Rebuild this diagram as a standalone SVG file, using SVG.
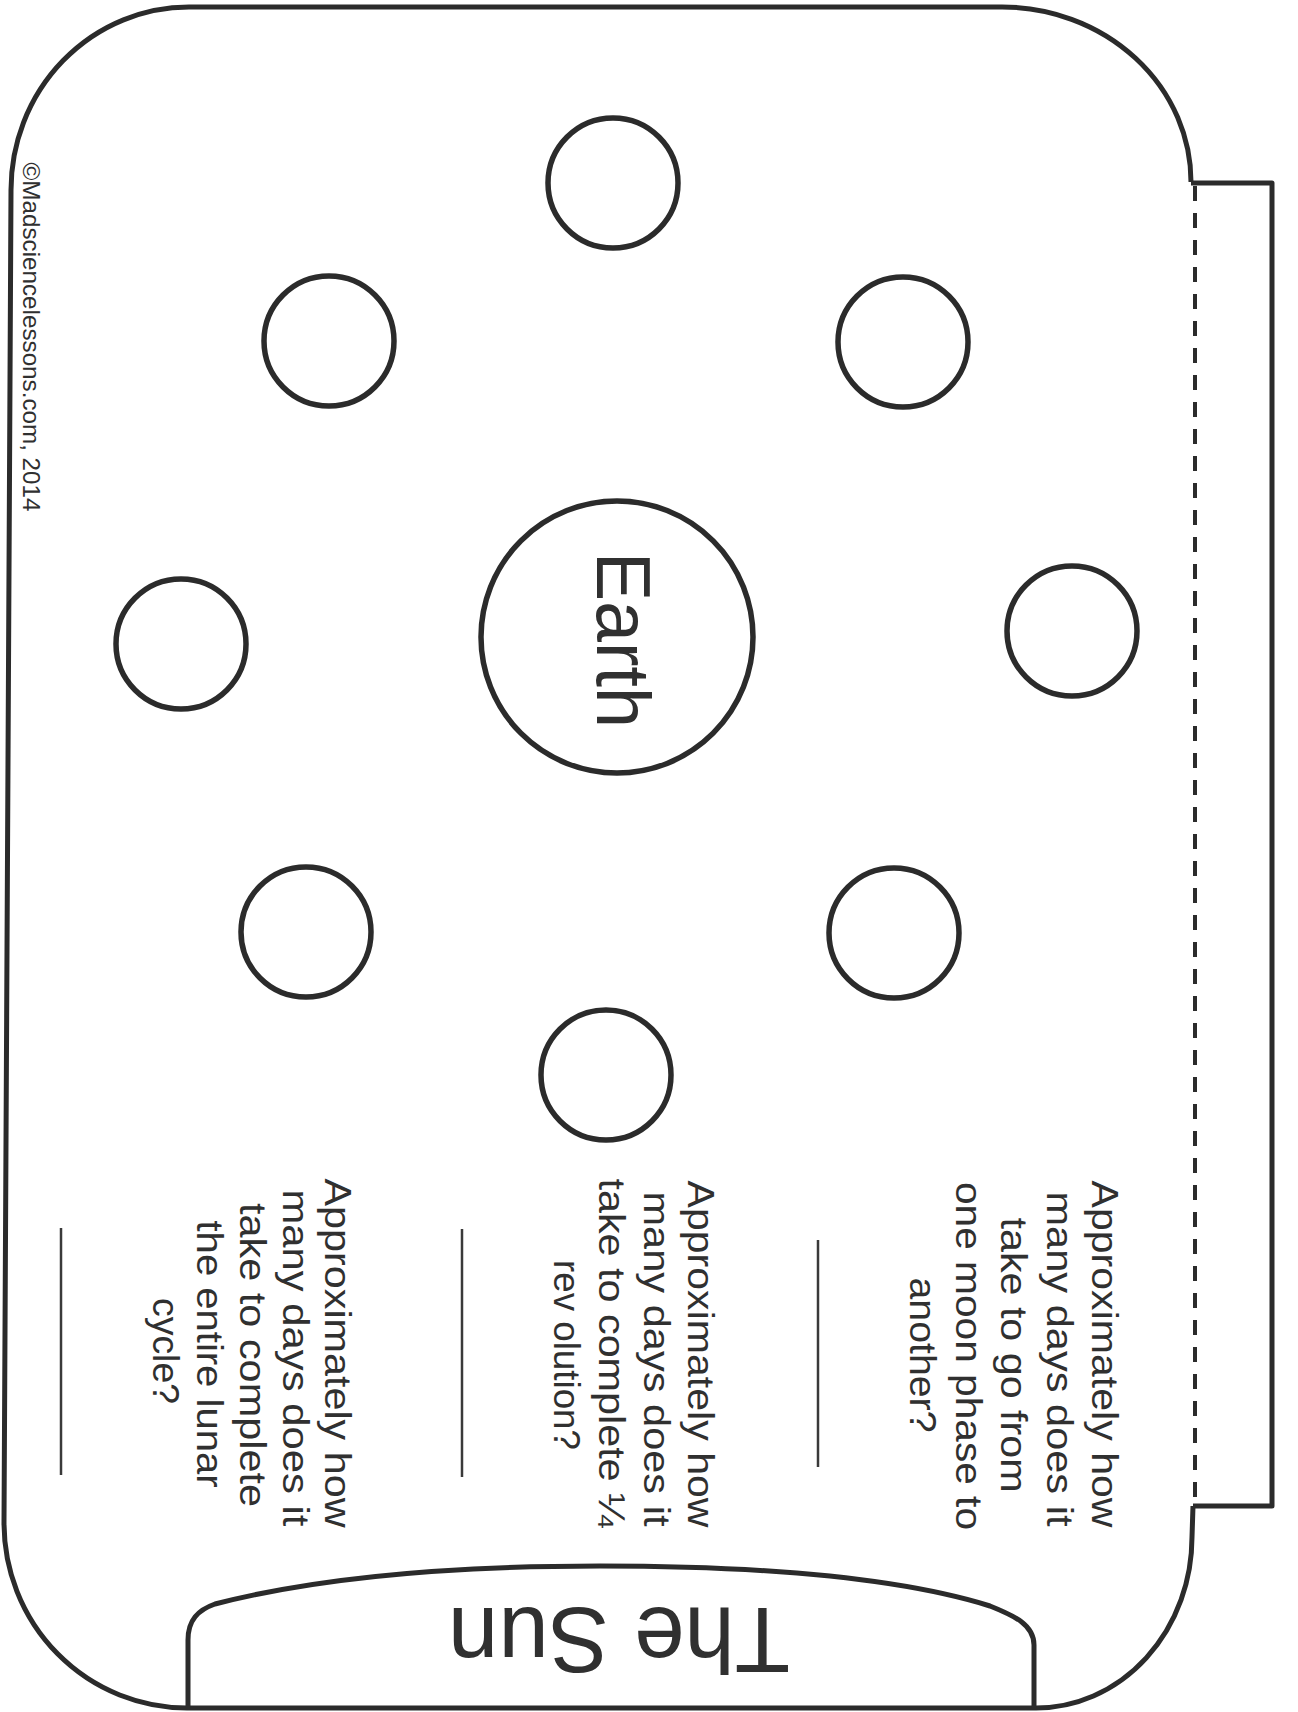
<svg xmlns="http://www.w3.org/2000/svg" width="1298" height="1712" viewBox="0 0 1298 1712">
<style>
.ln{fill:none;stroke:#2b2b2b;stroke-width:5;stroke-linejoin:round}
.moon{fill:none;stroke:#2b2b2b;stroke-width:5.5}
.ans{stroke:#3a3a3a;stroke-width:2.5}
.q{font-family:"Liberation Sans",Arial,sans-serif;font-size:36px;fill:#303030;text-anchor:middle}
.big{font-family:"Liberation Sans",Arial,sans-serif;fill:#303030;text-anchor:middle}
</style>
<rect width="1298" height="1712" fill="#ffffff"/>
<g id="frame">
<path class="ln" d="M1191,182 A189 175 0 0 0 1002,7 L189,7 A178 183 0 0 0 11,190 L4,1523 A183 185 0 0 0 187,1708 L1036,1708 A156 171 0 0 0 1192,1537 L1193,1506"/>
<path class="ln" d="M1191,183 L1272,183 L1272,1506 L1193,1506"/>
<line x1="1195" y1="186" x2="1195" y2="1506" stroke="#2b2b2b" stroke-width="4" stroke-dasharray="15 12"/>
</g>
<g id="copyright">
<text class="big" font-size="24" fill="#202020" transform="translate(23,337) rotate(90)" textLength="349" lengthAdjust="spacingAndGlyphs">©Madsciencelessons.com, 2014</text>
</g>
<g id="earth">
<circle class="moon" cx="617" cy="637" r="136"/>
<text class="big" font-size="76" transform="translate(597,640) rotate(90)" textLength="176" lengthAdjust="spacingAndGlyphs">Earth</text>
</g>
<g id="moons">
<circle id="moon-top" class="moon" cx="613" cy="183" r="65"/>
<circle id="moon-upper-left" class="moon" cx="329" cy="341" r="65"/>
<circle id="moon-upper-right" class="moon" cx="903" cy="342" r="65"/>
<circle id="moon-left" class="moon" cx="181" cy="644" r="65"/>
<circle id="moon-right" class="moon" cx="1072" cy="631" r="65"/>
<circle id="moon-lower-left" class="moon" cx="306" cy="932" r="65"/>
<circle id="moon-lower-right" class="moon" cx="894" cy="933" r="65"/>
<circle id="moon-bottom" class="moon" cx="606" cy="1075" r="65"/>
</g>
<g id="question-1">
<text class="q" transform="translate(1092,1354) rotate(90)" textLength="347" lengthAdjust="spacingAndGlyphs">Approximately how</text>
<text class="q" transform="translate(1047,1359) rotate(90)" textLength="335" lengthAdjust="spacingAndGlyphs">many days does it</text>
<text class="q" transform="translate(1001,1355) rotate(90)" textLength="275" lengthAdjust="spacingAndGlyphs">take to go from</text>
<text class="q" transform="translate(956,1356) rotate(90)" textLength="348" lengthAdjust="spacingAndGlyphs">one moon phase to</text>
<text class="q" transform="translate(910,1355) rotate(90)" textLength="155" lengthAdjust="spacingAndGlyphs">another?</text>
<line class="ans" x1="818" y1="1240" x2="818" y2="1467"/>
</g>
<g id="question-2">
<text class="q" transform="translate(688,1354) rotate(90)" textLength="347" lengthAdjust="spacingAndGlyphs">Approximately how</text>
<text class="q" transform="translate(644,1359) rotate(90)" textLength="335" lengthAdjust="spacingAndGlyphs">many days does it</text>
<text class="q" transform="translate(599,1353) rotate(90)" textLength="349" lengthAdjust="spacingAndGlyphs">take to complete ¼</text>
<text class="q" transform="translate(554,1355) rotate(90)" textLength="190" lengthAdjust="spacingAndGlyphs">rev olution?</text>
<line class="ans" x1="462" y1="1229" x2="462" y2="1477"/>
</g>
<g id="question-3">
<text class="q" transform="translate(325,1353) rotate(90)" textLength="349" lengthAdjust="spacingAndGlyphs">Approximately how</text>
<text class="q" transform="translate(283,1358) rotate(90)" textLength="337" lengthAdjust="spacingAndGlyphs">many days does it</text>
<text class="q" transform="translate(240,1355) rotate(90)" textLength="304" lengthAdjust="spacingAndGlyphs">take to complete</text>
<text class="q" transform="translate(197,1354) rotate(90)" textLength="267" lengthAdjust="spacingAndGlyphs">the entire lunar</text>
<text class="q" transform="translate(153,1351) rotate(90)" textLength="106" lengthAdjust="spacingAndGlyphs">cycle?</text>
<line class="ans" x1="61" y1="1228" x2="61" y2="1475"/>
</g>
<g id="sun">
<path class="ln" d="M188,1708 L188,1640 C188,1620 198,1610 215,1604 C300,1582 420,1566 600,1566 C760,1566 900,1578 990,1606 C1015,1616 1034,1625 1034,1645 L1034,1708"/>
<text class="big" font-size="92" transform="translate(619,1608) rotate(180)" textLength="342" lengthAdjust="spacingAndGlyphs">The Sun</text>
</g>
</svg>
